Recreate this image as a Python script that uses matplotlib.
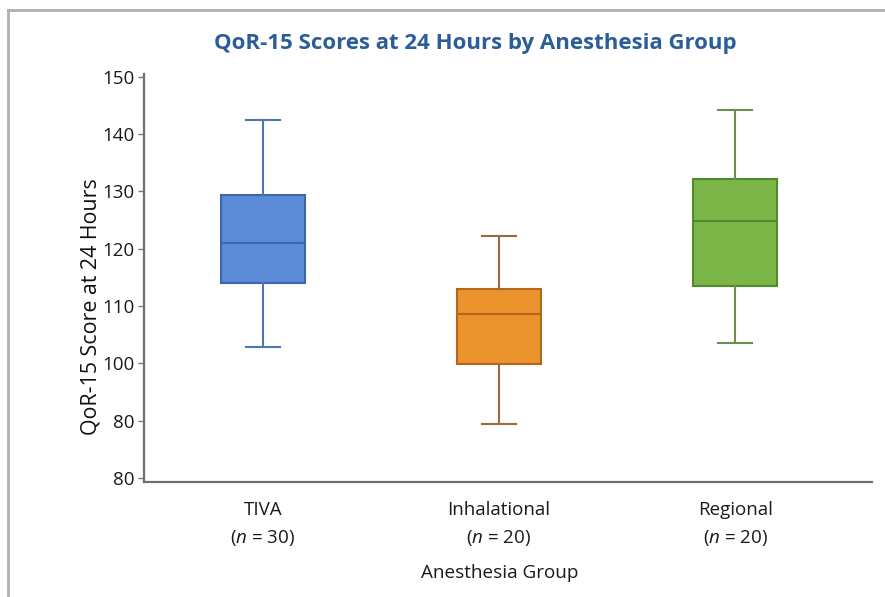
import matplotlib.pyplot as plt
from matplotlib.lines import Line2D

plt.rcParams['font.family'] = ['Open Sans', 'DejaVu Sans']
plt.rcParams['mathtext.fontset'] = 'custom'
plt.rcParams['mathtext.it'] = 'Open Sans:italic'
plt.rcParams['mathtext.rm'] = 'Open Sans'

# values (linear axis units)
groups = ["TIVA", "Inhalational", "Regional"]
n_sizes = [30, 20, 20]
whislo = [102.8, 89.4, 103.6]
q1 = [114.0, 99.9, 113.5]
med = [121.0, 108.6, 124.9]
q3 = [129.3, 112.9, 132.1]
whishi = [142.4, 122.3, 144.2]

fills = ["#5b8ad6", "#ea922c", "#7cb648"]
edges = ["#3d67ad", "#b4661c", "#4f8a2d"]
whisk_colors = ["#4f77ad", "#9a6b43", "#6e8f4c"]

ytick_vals = [80, 90, 100, 110, 120, 130, 140, 150]
ytick_labels = ["80", "80", "100", "110", "120", "130", "140", "150"]

fig = plt.figure(figsize=(8.85, 5.97), dpi=100)
ax = fig.add_axes([144 / 885, 115 / 597, 728 / 885, 408 / 597])

for i in range(len(groups)):
    stats = [dict(med=med[i], q1=q1[i], q3=q3[i], whislo=whislo[i], whishi=whishi[i], fliers=[])]
    ax.bxp(stats, positions=[i], widths=0.356, capwidths=0.144, patch_artist=True,
           showfliers=False,
           boxprops=dict(facecolor=fills[i], edgecolor=edges[i], linewidth=1.5),
           medianprops=dict(color=edges[i], linewidth=1.5),
           whiskerprops=dict(color=whisk_colors[i], linewidth=1.5),
           capprops=dict(color=whisk_colors[i], linewidth=1.5))

ax.set_xlim(-0.504, 2.58)
ax.set_ylim(79.3, 150.5)
ax.set_yticks(ytick_vals)
ax.set_yticklabels(ytick_labels, fontsize=13.5, color="#1a1a1a")
ax.set_xticks(range(len(groups)))
ax.set_xticklabels([f"{g}\n($\\mathit{{n}}$ = {n})" for g, n in zip(groups, n_sizes)],
                   fontsize=13.5, color="#1a1a1a", linespacing=1.6)
ax.tick_params(axis='x', length=0, pad=14)
ax.tick_params(axis='y', length=4, width=1, color="#777777", pad=3)

for s in ["top", "right"]:
    ax.spines[s].set_visible(False)
for s in ["left", "bottom"]:
    ax.spines[s].set_color("#6f6f6f")
    ax.spines[s].set_linewidth(1.6)

ax.set_ylabel("QoR-15 Score at 24 Hours", fontsize=15.4, color="#111111")
ax.yaxis.set_label_coords(-0.059, 0.431)
fig.text(500 / 885, 1 - 573 / 597, "Anesthesia Group", fontsize=13.6, color="#1a1a1a",
         ha="center", va="center")
fig.text(475 / 885, 1 - 43 / 597, "QoR-15 Scores at 24 Hours by Anesthesia Group",
         fontsize=16, fontweight="bold", color="#2b5d98", ha="center", va="center")

# thin frame on top and left edges
fig.add_artist(Line2D([8 / 885, 1], [1 - 10 / 597, 1 - 10 / 597], color="#b0b0b0", lw=2))
fig.add_artist(Line2D([8 / 885, 8 / 885], [0, 1 - 10 / 597], color="#b0b0b0", lw=2))

fig.savefig("out.png", dpi=100)
